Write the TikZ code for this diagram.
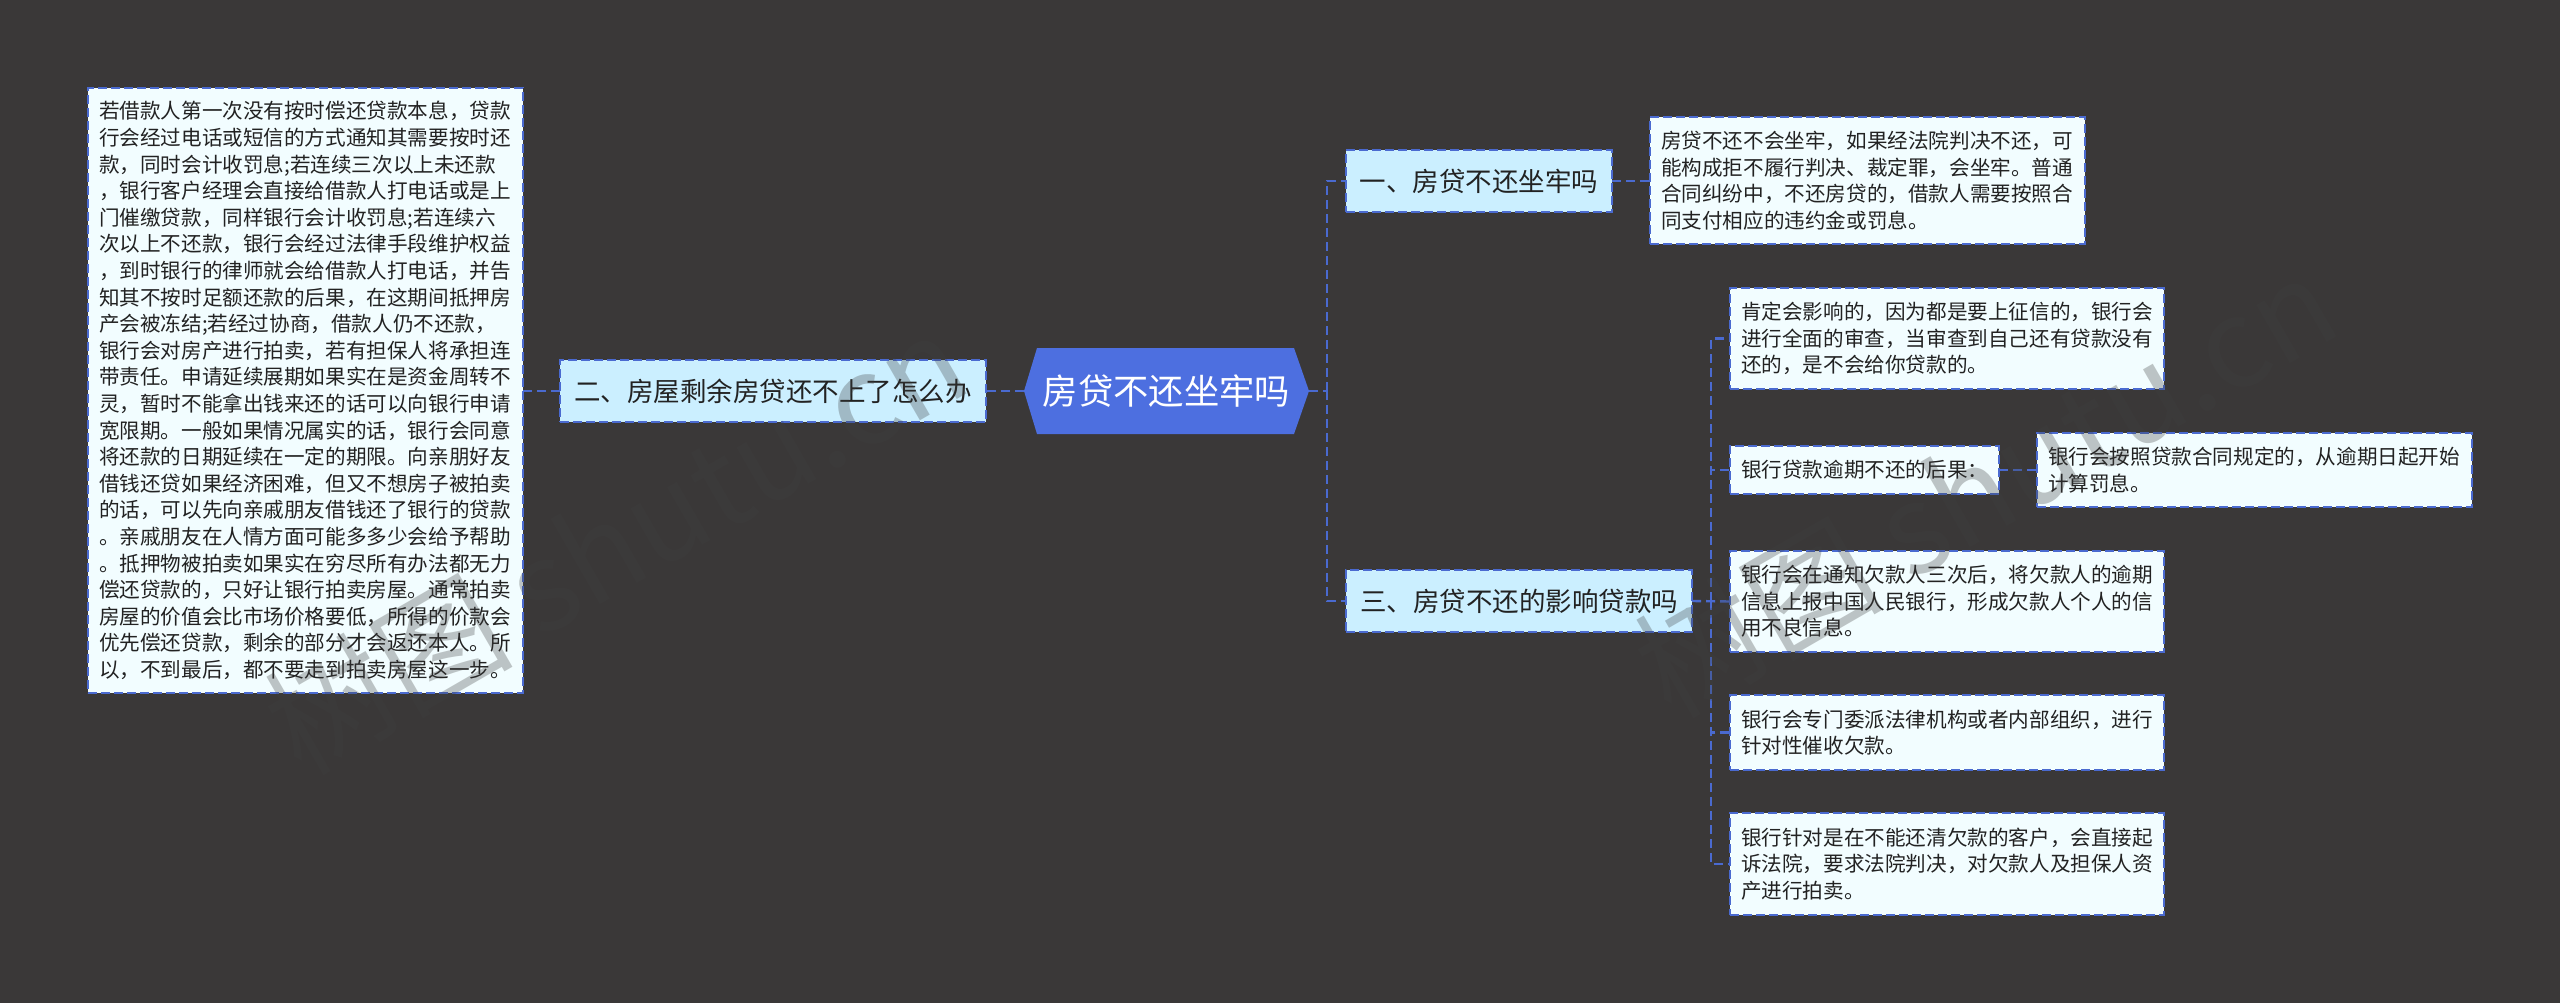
\documentclass[tikz,border=0pt]{standalone}
\usepackage{fontspec}
\setmainfont{Noto Sans CJK SC}
\definecolor{bgc}{HTML}{3A3838}
\definecolor{hexc}{HTML}{4D6FE0}
\definecolor{linec}{HTML}{4A6AD0}
\definecolor{subc}{HTML}{CBEFFF}
\definecolor{leafc}{HTML}{F2FDFF}
\definecolor{inkc}{HTML}{222222}
\definecolor{wmc}{HTML}{3F3F3F}
\tikzset{
  x=1pt,y=-1pt,
  conn/.style={draw=linec,line width=2.4pt,dash pattern=on 9pt off 5pt},
  boxbase/.style={draw=linec,line width=2.4pt,dash pattern=on 9pt off 4pt,anchor=north west,outer sep=0pt,inner xsep=0pt,inner ysep=0pt,text=inkc,align=left},
  subbox/.style={boxbase,fill=subc,align=center,font=\fontsize{26.5}{32}\selectfont},
  leafbox/.style={boxbase,fill=leafc,font=\fontsize{20.6}{26.6}\selectfont},
  wmark/.style={text=wmc,opacity=.3,rotate=30,font=\fontsize{124}{130}\selectfont},
}
\newcommand{\leafnode}[6]{\node[leafbox,minimum width=#4pt,minimum height=#5pt,text width=#4pt-22pt] (#1) at (#2,#3) {#6};}
\begin{document}
\begin{tikzpicture}
\useasboundingbox (0,0) rectangle (2560,1003);
\fill[bgc] (0,0) rectangle (2560,1003);
% coordinates for elbows
\coordinate (jone) at (1327,391);
\coordinate (jtwo) at (1711,601);
% root shape
\fill[hexc] (1024,391) -- (1037,348) -- (1294,348) -- (1309,391) -- (1294,434) -- (1037,434) -- cycle;
\node[text=white,font=\fontsize{35.3}{40}\selectfont,minimum width=285pt,minimum height=86pt,inner sep=0pt,outer sep=0pt] (root) at (1166.5,391) {房贷不还坐牢吗};
% boxes
\node[subbox,minimum width=426pt,minimum height=62pt] (two) at (560,360) {二、房屋剩余房贷还不上了怎么办};
\node[subbox,minimum width=266pt,minimum height=62pt] (one) at (1346,150) {一、房贷不还坐牢吗};
\node[subbox,minimum width=346pt,minimum height=62pt] (three) at (1346,570) {三、房贷不还的影响贷款吗};
\leafnode{big}{88}{88}{435}{605}{若借款人第一次没有按时偿还贷款本息，贷款\\行会经过电话或短信的方式通知其需要按时还\\款，同时会计收罚息;若连续三次以上未还款\\，银行客户经理会直接给借款人打电话或是上\\门催缴贷款，同样银行会计收罚息;若连续六\\次以上不还款，银行会经过法律手段维护权益\\，到时银行的律师就会给借款人打电话，并告\\知其不按时足额还款的后果，在这期间抵押房\\产会被冻结;若经过协商，借款人仍不还款，\\银行会对房产进行拍卖，若有担保人将承担连\\带责任。申请延续展期如果实在是资金周转不\\灵，暂时不能拿出钱来还的话可以向银行申请\\宽限期。一般如果情况属实的话，银行会同意\\将还款的日期延续在一定的期限。向亲朋好友\\借钱还贷如果经济困难，但又不想房子被拍卖\\的话，可以先向亲戚朋友借钱还了银行的贷款\\。亲戚朋友在人情方面可能多多少会给予帮助\\。抵押物被拍卖如果实在穷尽所有办法都无力\\偿还贷款的，只好让银行拍卖房屋。通常拍卖\\房屋的价值会比市场价格要低，所得的价款会\\优先偿还贷款，剩余的部分才会返还本人。所\\以，不到最后，都不要走到拍卖房屋这一步。}
\leafnode{ans}{1650}{117}{435}{127}{房贷不还不会坐牢，如果经法院判决不还，可\\能构成拒不履行判决、裁定罪，会坐牢。普通\\合同纠纷中，不还房贷的，借款人需要按照合\\同支付相应的违约金或罚息。}
\leafnode{la}{1730}{288}{434}{101}{肯定会影响的，因为都是要上征信的，银行会\\进行全面的审查，当审查到自己还有贷款没有\\还的，是不会给你贷款的。}
\leafnode{lb}{1730}{446}{269}{48}{银行贷款逾期不还的后果：}
\leafnode{lbb}{2037}{433}{435}{74}{银行会按照贷款合同规定的，从逾期日起开始\\计算罚息。}
\leafnode{lc}{1730}{551}{434}{101}{银行会在通知欠款人三次后，将欠款人的逾期\\信息上报中国人民银行，形成欠款人个人的信\\用不良信息。}
\leafnode{ld}{1730}{695}{434}{75}{银行会专门委派法律机构或者内部组织，进行\\针对性催收欠款。}
\leafnode{le}{1730}{813}{434}{102}{银行针对是在不能还清欠款的客户，会直接起\\诉法院，要求法院判决，对欠款人及担保人资\\产进行拍卖。}
% connectors
\draw[conn] (root.west) -- (two.east);
\draw[conn] (two.west) -- (big.east |- two.west);
\draw[conn] (root.east) -- (jone);
\draw[conn] (jone) |- (one.west);
\draw[conn] (jone) |- (three.west);
\draw[conn] (one.east) -- (ans.west |- one.east);
\draw[conn] (three.east) -- (lc.west);
\draw[conn] (jtwo) |- (la.west);
\draw[conn] (jtwo) |- (lb.west);
\draw[conn] (jtwo) |- (ld.west);
\draw[conn] (jtwo) |- (le.west);
\draw[conn] (lb.east) -- (lbb.west);
% watermarks
\node[wmark] (wma) at (615,542) {树图 shutu.cn};
\node[wmark] (wmb) at (1985,485) {树图 shutu.cn};
\end{tikzpicture}
\end{document}
